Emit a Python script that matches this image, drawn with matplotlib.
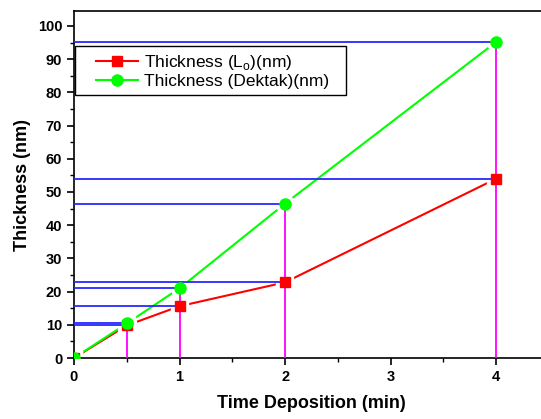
import numpy as np
import matplotlib
matplotlib.use('Agg')
import matplotlib.pyplot as plt
from matplotlib.ticker import MultipleLocator
from matplotlib.lines import Line2D
from matplotlib.patches import Rectangle

plt.rcParams['font.family'] = ['Liberation Sans', 'DejaVu Sans']

# data
time_min = [0, 0.5, 1, 2, 4]
thick_lo = [0, 9.8, 15.6, 22.8, 54.0]
thick_dektak = [0, 10.4, 21.0, 46.5, 95.2]

RED = '#ff0000'
GREEN = '#00ff00'
BLUE = '#2828ff'
MAGENTA = '#ff00ff'

W, H = 541, 419
fig = plt.figure(figsize=(W / 100, H / 100), dpi=100)
ax = fig.add_axes([74 / W, 61 / H, 475 / W, 347 / H])

# series lines (markers drawn later so the line breaks around them, Origin style)
ax.plot(time_min, thick_lo, color=RED, lw=1.5, zorder=2)
ax.plot(time_min, thick_dektak, color=GREEN, lw=1.5, zorder=2)
ax.plot(time_min, thick_lo, ls='none', marker='s', ms=7, mfc='white', mec='white', mew=6, zorder=2.5)
ax.plot(time_min, thick_dektak, ls='none', marker='o', ms=8, mfc='white', mec='white', mew=6, zorder=2.5)

# guide lines from the axes to every point
for x, y1, y2 in zip(time_min[1:], thick_lo[1:], thick_dektak[1:]):
    ax.plot([0, x], [y1, y1], color=BLUE, lw=1.3, zorder=2.7)
    ax.plot([0, x], [y2, y2], color=BLUE, lw=1.3, zorder=2.7)
    ax.plot([x, x], [0, max(y1, y2)], color=MAGENTA, lw=1.3, zorder=2.7)

ax.plot(time_min, thick_lo, ls='none', marker='s', ms=7, mfc=RED, mec=RED, zorder=4)
ax.plot(time_min, thick_dektak, ls='none', marker='o', ms=8, mfc=GREEN, mec=GREEN, zorder=5)

ax.set_xlim(0, 4.5)
ax.set_ylim(0, 104.5)
ax.xaxis.set_major_locator(MultipleLocator(1))
ax.xaxis.set_minor_locator(MultipleLocator(0.5))
ax.yaxis.set_major_locator(MultipleLocator(10))
ax.yaxis.set_minor_locator(MultipleLocator(5))
ax.tick_params(which='major', direction='out', length=5, width=1.2, labelsize=10.5)
ax.tick_params(which='minor', direction='out', length=3, width=1.0)
for lab in ax.get_xticklabels() + ax.get_yticklabels():
    lab.set_fontweight('bold')
ax.spines['right'].set_visible(False)
for s in ['left', 'bottom', 'top']:
    ax.spines[s].set_linewidth(1.2)

ax.set_xlabel('Time Deposition (min)', fontsize=13, fontweight='bold', labelpad=8)
ax.set_ylabel('Thickness (nm)', fontsize=13, fontweight='bold', labelpad=5)

# legend box, drawn separately to get the wide left margin
box = Rectangle((75 / W, 1 - 95 / H), 271 / W, 49 / H, transform=fig.transFigure,
                facecolor='white', edgecolor='black', lw=1.0, zorder=6)
fig.add_artist(box)
handles = [
    Line2D([], [], color=RED, lw=1.5, marker='s', ms=7),
    Line2D([], [], color=GREEN, lw=1.5, marker='o', ms=8),
]
labels = [r'Thickness (L$_\mathregular{o}$)(nm)', 'Thickness (Dektak)(nm)']
leg = fig.legend(handles, labels, loc='center left', bbox_to_anchor=(96 / W, 1 - 71 / H),
                 fontsize=12.5, frameon=False, handlelength=2.4, borderpad=0,
                 borderaxespad=0, labelspacing=0.15, handletextpad=0.35)
leg.set_zorder(7)

fig.savefig('out.png', dpi=100)
